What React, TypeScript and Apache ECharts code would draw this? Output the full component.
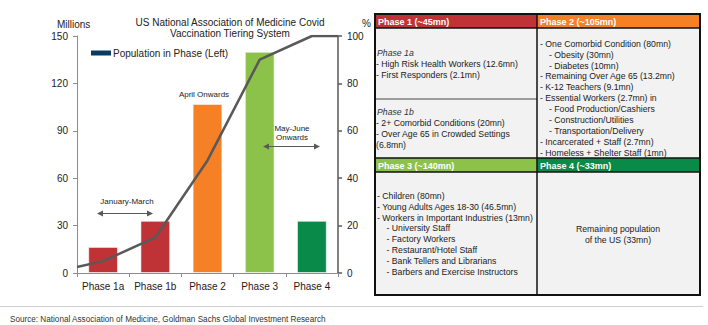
import React, { useEffect, useRef } from "react";
import * as echarts from "echarts";

// ---- Data ----
const categories = ["Phase 1a", "Phase 1b", "Phase 2", "Phase 3", "Phase 4"];
const population = [16.5, 33, 107, 140, 33]; // millions
const barColors = ["#BF3236", "#BF3236", "#F58025", "#8CC14A", "#098A48"];
const cumX = [0, 0.5, 1.5, 2.5, 3.5, 4.5, 5]; // category-index positions of the cumulative line
const cumPct = [2.5, 5, 15, 47.5, 90, 100, 100];
const leftTicks = { min: 0, max: 150, interval: 30 };
const rightTicks = { min: 0, max: 100, interval: 20 };

const titleLines = ["US National Association of Medicine Covid", "Vaccination Tiering System"];
const legendName = "Population in Phase (Left)";

const headers = ["Phase 1 (~45mn)", "Phase 2 (~105mn)", "Phase 3 (~140mn)", "Phase 4 (~33mn)"];
const headerColors = ["#BF3236", "#F58025", "#8CC14A", "#098A48"];

const phase1aTitle = "Phase 1a";
const phase1aLines = ["- High Risk Health Workers (12.6mn)", "- First Responders (2.1mn)"];
const phase1bTitle = "Phase 1b";
const phase1bLines = ["- 2+ Comorbid Conditions (20mn)", "- Over Age 65 in Crowded Settings", "(6.8mn)"];
const phase2Lines = [
  "- One Comorbid Condition (80mn)",
  "- Obesity (30mn)",
  "- Diabetes (10mn)",
  "- Remaining Over Age 65 (13.2mn)",
  "- K-12 Teachers (9.1mn)",
  "- Essential Workers (2.7mn) in",
  "- Food Production/Cashiers",
  "- Construction/Utilities",
  "- Transportation/Delivery",
  "- Incarcerated + Staff (2.7mn)",
  "- Homeless + Shelter Staff (1mn)",
];
const phase2Indent = [0, 1, 1, 0, 0, 0, 1, 1, 1, 0, 0];
const phase3Lines = [
  "- Children (80mn)",
  "- Young Adults Ages 18-30 (46.5mn)",
  "- Workers in Important Industries (13mn)",
  "- University Staff",
  "- Factory Workers",
  "- Restaurant/Hotel Staff",
  "- Bank Tellers and Librarians",
  "- Barbers and Exercise Instructors",
];
const phase3Indent = [0, 0, 0, 1, 1, 1, 1, 1];
const phase4Lines = ["Remaining population", "of the US (33mn)"];

const sourceText = "Source: National Association of Medicine, Goldman Sachs Global Investment Research";

const FONT = '"Liberation Sans", Arial, sans-serif';

export default function App() {
  const ref = useRef<HTMLDivElement>(null);

  useEffect(() => {
    document.body.style.margin = "0";
    if (!ref.current) return;
    const chart = echarts.init(ref.current, undefined, { renderer: "svg" });

    const g: any[] = [];
    const txt = (x: number, y: number, text: string, font: string, fill = "#1a1a1a", align = "left", extra: any = {}) =>
      g.push({
        type: "text",
        x,
        y,
        style: { text, font, fill, align, verticalAlign: "middle" },
        z: 10,
        ...extra,
      });

    // Title & axis names
    titleLines.forEach((t, i) => txt(230, 22 + i * 11, t, `10px ${FONT}`, "#222", "center"));
    txt(57, 24, "Millions", `10px ${FONT}`, "#222");
    txt(362, 23, "%", `10px ${FONT}`, "#222");

    // Annotations
    const arrow = (x1: number, x2: number, y: number) => {
      g.push({ type: "line", shape: { x1: x1 + 4, y1: y, x2: x2 - 4, y2: y }, style: { stroke: "#595959", lineWidth: 1.2 }, z: 10 });
      g.push({ type: "polygon", shape: { points: [[x1, y], [x1 + 6, y - 3], [x1 + 6, y + 3]] }, style: { fill: "#595959" }, z: 10 });
      g.push({ type: "polygon", shape: { points: [[x2, y], [x2 - 6, y - 3], [x2 - 6, y + 3]] }, style: { fill: "#595959" }, z: 10 });
    };
    txt(204, 94, "April Onwards", `8px ${FONT}`, "#222", "center");
    txt(127, 201, "January-March", `8px ${FONT}`, "#222", "center");
    arrow(97, 153, 213.5);
    txt(292, 128, "May-June", `8px ${FONT}`, "#222", "center");
    txt(292, 137, "Onwards", `8px ${FONT}`, "#222", "center");
    arrow(263, 320, 146.5);

    // Table
    const X0 = 375, XM = 537, X1 = 700;
    const Y0 = 14, YH1 = 28, Y1A = 99, YR1 = 158, YH2 = 172, Y1 = 295;
    const cellFill = "#F2F2F2";
    g.push({ type: "rect", shape: { x: X0, y: Y0, width: X1 - X0, height: Y1 - Y0 }, style: { fill: cellFill }, z: 5 });
    g.push({ type: "rect", shape: { x: X0, y: Y0, width: XM - X0, height: YH1 - Y0 }, style: { fill: headerColors[0] }, z: 5 });
    g.push({ type: "rect", shape: { x: XM, y: Y0, width: X1 - XM, height: YH1 - Y0 }, style: { fill: headerColors[1] }, z: 5 });
    g.push({ type: "rect", shape: { x: X0, y: YR1, width: XM - X0, height: YH2 - YR1 }, style: { fill: headerColors[2] }, z: 5 });
    g.push({ type: "rect", shape: { x: XM, y: YR1, width: X1 - XM, height: YH2 - YR1 }, style: { fill: headerColors[3] }, z: 5 });
    const ln = (x1: number, y1: number, x2: number, y2: number, stroke: string, w: number) =>
      g.push({ type: "line", shape: { x1, y1, x2, y2 }, style: { stroke, lineWidth: w }, z: 7 });
    ln(X0, Y1A, XM, Y1A, "#7F7F7F", 1.5);
    ln(X0, YH1, X1, YH1, "#111", 1.5);
    ln(X0, YR1, X1, YR1, "#111", 1.5);
    ln(X0, YH2, X1, YH2, "#111", 1.5);
    ln(XM, Y0, XM, Y1, "#111", 1.5);
    g.push({ type: "rect", shape: { x: X0, y: Y0, width: X1 - X0, height: Y1 - Y0 }, style: { fill: "none", stroke: "#111", lineWidth: 2 }, z: 8 });

    const hFont = `bold 9px ${FONT}`;
    txt(X0 + 3, 21.5, headers[0], hFont, "#fff");
    txt(XM + 3, 21.5, headers[1], hFont, "#fff");
    txt(X0 + 3, 165.5, headers[2], hFont, "#fff");
    txt(XM + 3, 165.5, headers[3], hFont, "#fff");

    const cFont = `8.7px ${FONT}`;
    const iFont = `italic 8.7px ${FONT}`;
    const LH = 10.9;
    txt(X0 + 2, 52.7, phase1aTitle, iFont, "#333");
    phase1aLines.forEach((t, i) => txt(X0 + 1, 52.7 + (i + 1) * LH, t, cFont));
    txt(X0 + 2, 112, phase1bTitle, iFont, "#333");
    phase1bLines.forEach((t, i) => txt(X0 + 1, 112 + (i + 1) * LH, t, cFont));
    phase2Lines.forEach((t, i) => txt(XM + 3 + phase2Indent[i] * 9, 43.7 + i * LH, t, cFont));
    phase3Lines.forEach((t, i) => txt(X0 + 2 + phase3Indent[i] * 9.5, 195.7 + i * LH, t, cFont));
    phase4Lines.forEach((t, i) => txt(618, 229 + i * LH, t, cFont, "#1a1a1a", "center"));

    // Footer
    g.push({ type: "line", shape: { x1: 0, y1: 306.5, x2: 703, y2: 306.5 }, style: { stroke: "#CFCFCF", lineWidth: 1 }, z: 5 });
    txt(10, 318.5, sourceText, `9.5px ${FONT}`, "#333", "left", { scaleX: 0.86 });

    const option: any = {
      animation: false,
      textStyle: { fontFamily: FONT },
      grid: { left: 77, right: 370, top: 36, bottom: 52, containLabel: false },
      legend: {
        data: [legendName],
        left: 91,
        top: 48,
        padding: 0,
        itemWidth: 20,
        itemHeight: 5,
        icon: "rect",
        textStyle: { fontSize: 10, color: "#222", fontFamily: FONT, padding: [0, 0, 0, -3] },
      },
      xAxis: [
        {
          type: "category",
          data: categories,
          axisLine: { lineStyle: { color: "#8C8C8C", width: 1 } },
          axisTick: { show: true, length: 4, lineStyle: { color: "#8C8C8C" } },
          axisLabel: { fontSize: 10, color: "#2B1515", margin: 8, fontFamily: FONT, interval: 0 },
        },
        { type: "value", min: 0, max: 5, show: false },
      ],
      yAxis: [
        {
          type: "value",
          ...leftTicks,
          axisLine: { show: true, lineStyle: { color: "#8C8C8C", width: 1 } },
          axisTick: { show: true, length: 4, lineStyle: { color: "#8C8C8C" } },
          axisLabel: { fontSize: 10, color: "#222", margin: 9, fontFamily: FONT },
          splitLine: { show: false },
        },
        {
          type: "value",
          position: "right",
          ...rightTicks,
          axisLine: { show: true, lineStyle: { color: "#595959", width: 1.5 } },
          axisTick: { show: true, length: 4, lineStyle: { color: "#595959", width: 1.5 } },
          axisLabel: { fontSize: 10, color: "#222", margin: 9, fontFamily: FONT },
          splitLine: { show: false },
        },
      ],
      series: [
        {
          name: legendName,
          type: "bar",
          barWidth: "57%",
          itemStyle: { color: "#0B3A62" },
          data: population.map((v, i) => ({
            value: v,
            itemStyle: { color: barColors[i], borderColor: "rgba(255,255,255,0.55)", borderWidth: 1 },
          })),
          z: 2,
        },
        {
          name: "Cumulative %",
          type: "line",
          xAxisIndex: 1,
          yAxisIndex: 1,
          showSymbol: false,
          symbol: "none",
          lineStyle: { color: "#595959", width: 2.5 },
          data: cumX.map((x, i) => [x, cumPct[i]]),
          z: 3,
        },
      ],
      graphic: g,
    };
    chart.setOption(option);
    return () => chart.dispose();
  }, []);

  return <div ref={ref} style={{ width: 708, height: 325 }} />;
}
